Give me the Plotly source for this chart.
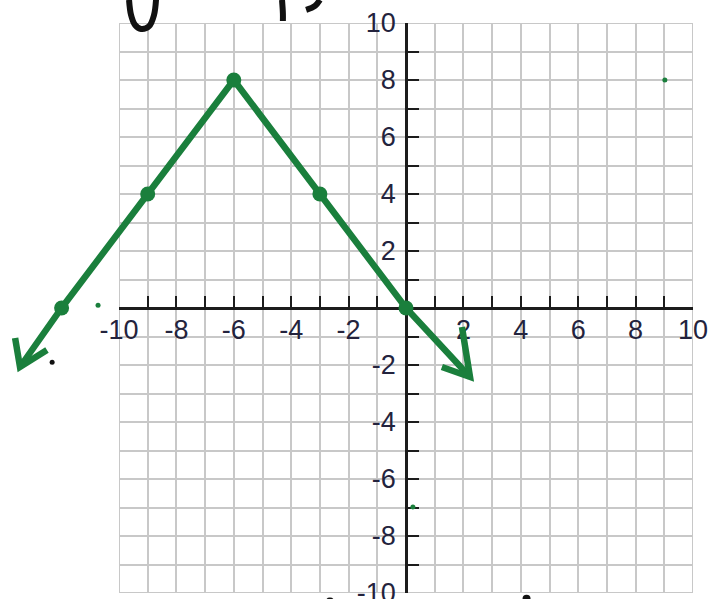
import plotly.graph_objects as go

# axis tick labels (0 is left out, as in the picture)
tick_vals = [-10, -8, -6, -4, -2, 2, 4, 6, 8, 10]
tick_text = [str(v) for v in tick_vals]

# hand-drawn graph (green)
line_x = [-13.45, -12, -9, -6, -3, 0, 2.23]
line_y = [-2.07, 0, 4, 8, 4, 0, -2.42]
point_x = [-12, -9, -6, -3, 0]
point_y = [0, 4, 8, 4, 0]
left_head_x = [-13.62, -13.45, -12.51]
left_head_y = [-1.05, -2.07, -1.47]
right_head_x = [1.95, 2.23, 1.25]
right_head_y = [-0.67, -2.42, -2.07]

# stray pen dots
green_dot_x = [-10.73, 9.02, 0.24]
green_dot_y = [0.1, 8.0, -6.98]
black_dot_x = [-12.33]
black_dot_y = [-1.9]

# cut-off handwriting at the top / bottom edge (black pen)
scrawl1_x = [-9.65, -9.58, -9.44, -9.23, -8.95, -8.78, -8.71]
scrawl1_y = [10.81, 10.28, 9.93, 9.79, 9.89, 10.28, 10.81]
scrawl2_x = [-4.32, -4.29, -4.29]
scrawl2_y = [10.81, 10.35, 10.07]
scrawl3_x = [-3.0, -3.17, -3.48]
scrawl3_y = [10.81, 10.6, 10.46]
blob_x = [-2.65, 4.2]
blob_y = [-10.3, -10.2]

W, H = 720, 599
ox, oy = 406, 308          # pixel position of the origin
ux, uy = 28.7, 28.5        # pixels per unit

GREEN = "#1a7f3c"
INK = "#111111"
GRID = "#c8c8c8"
AXIS = "#1c1c1c"

fig = go.Figure()

pen = dict(xaxis="x2", yaxis="y2", showlegend=False, hoverinfo="skip")

fig.add_trace(go.Scatter(x=line_x, y=line_y, mode="lines",
                         line=dict(color=GREEN, width=6.5), **pen))
fig.add_trace(go.Scatter(x=left_head_x, y=left_head_y, mode="lines",
                         line=dict(color=GREEN, width=6.5), **pen))
fig.add_trace(go.Scatter(x=right_head_x, y=right_head_y, mode="lines",
                         line=dict(color=GREEN, width=6.5), **pen))
fig.add_trace(go.Scatter(x=point_x, y=point_y, mode="markers",
                         marker=dict(color=GREEN, size=15), **pen))
fig.add_trace(go.Scatter(x=green_dot_x, y=green_dot_y, mode="markers",
                         marker=dict(color=GREEN, size=5), **pen))
fig.add_trace(go.Scatter(x=black_dot_x, y=black_dot_y, mode="markers",
                         marker=dict(color=INK, size=5), **pen))
for sx, sy in [(scrawl1_x, scrawl1_y), (scrawl2_x, scrawl2_y), (scrawl3_x, scrawl3_y)]:
    fig.add_trace(go.Scatter(x=sx, y=sy, mode="lines",
                             line=dict(color=INK, width=6, shape="spline"), **pen))
fig.add_trace(go.Scatter(x=blob_x, y=blob_y, mode="markers",
                         marker=dict(color=INK, size=8), **pen))

# grid border
fig.add_shape(type="rect", xref="x", yref="y", x0=-10, x1=10, y0=-10, y1=10,
              line=dict(color=GRID, width=2), layer="below")

tickfont = dict(family="Liberation Sans, Arial", size=27, color="#23233d")

common = dict(
    range=[-10, 10], showline=True, linecolor=AXIS, linewidth=2.5,
    tickmode="array", tickvals=tick_vals, ticktext=tick_text,
    ticks="inside", ticklen=11, tickwidth=2, tickcolor=AXIS,
    showgrid=True, gridcolor=GRID, gridwidth=2, zeroline=False,
    minor=dict(tick0=0, dtick=1, ticks="inside", ticklen=11, tickwidth=2,
               tickcolor=AXIS, showgrid=True, gridcolor=GRID, gridwidth=2),
    tickfont=tickfont, fixedrange=True, anchor="free", automargin=False,
    ticklabeloverflow="allow",
)

fig.update_layout(
    width=W, height=H,
    margin=dict(l=0, r=0, t=0, b=0),
    paper_bgcolor="white", plot_bgcolor="rgba(0,0,0,0)",
    showlegend=False,
    xaxis=dict(domain=[(ox - 10 * ux) / W, (ox + 10 * ux) / W],
               position=1 - oy / H, side="bottom", ticklabelstandoff=-3,
               **common),
    yaxis=dict(domain=[1 - (oy + 10 * uy) / H, 1 - (oy - 10 * uy) / H],
               position=ox / W, side="left", ticklabelstandoff=4,
               **common),
    xaxis2=dict(domain=[0, 1], range=[-ox / ux, (W - ox) / ux],
                visible=False, fixedrange=True, anchor="y2", automargin=False),
    yaxis2=dict(domain=[0, 1], range=[(oy - H) / uy, oy / uy],
                visible=False, fixedrange=True, anchor="x2", automargin=False),
)

# drop the default 8px page margin so the figure fills the window
fig.write_html("out.html", config={"displayModeBar": False},
               post_script="document.body.style.margin='0';document.body.style.overflow='hidden';")
